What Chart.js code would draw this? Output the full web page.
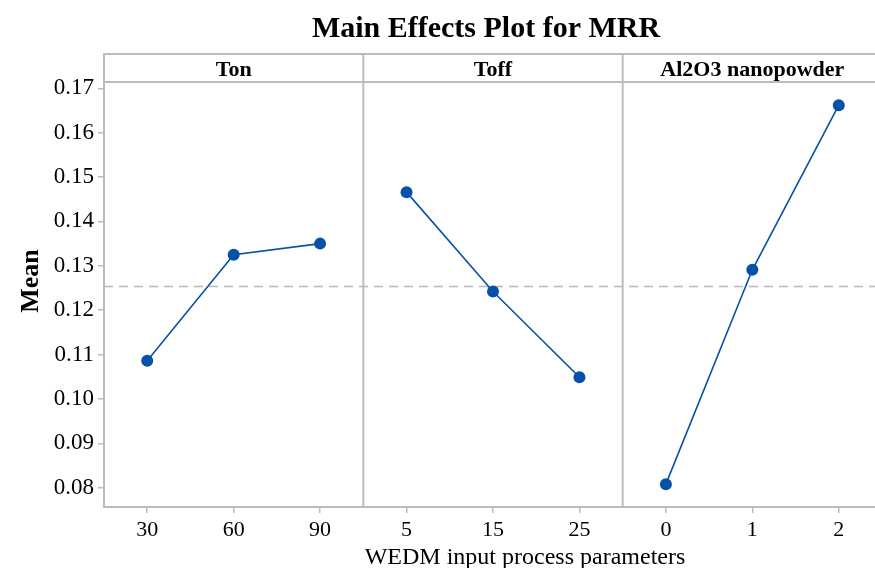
<!DOCTYPE html>
<html>
<head>
<meta charset="utf-8">
<title>Main Effects Plot for MRR</title>
<script src="https://cdn.jsdelivr.net/npm/chart.js@4/dist/chart.umd.min.js"></script>
<style>
    html, body { margin: 0; padding: 0; background: #fff; overflow: hidden; }
    #wrap { position: absolute; left: 0; top: 0; width: 888px; height: 568px; }
</style>
</head>
<body>
<div id="wrap"><canvas id="mainEffects"></canvas></div>
<script>
// Factors (panel headers) and their levels
const factors = ['Ton', 'Toff', 'Al2O3 nanopowder'];
const tonLevels = ['30', '60', '90'];
const toffLevels = ['5', '15', '25'];
const powderLevels = ['0', '1', '2'];

// Mean MRR at each level
const tonMeans = [0.1086, 0.1325, 0.1350];
const toffMeans = [0.1466, 0.1242, 0.1049];
const powderMeans = [0.0808, 0.1291, 0.1662];

// Y axis tick labels
const yTicks = [0.08, 0.09, 0.10, 0.11, 0.12, 0.13, 0.14, 0.15, 0.16, 0.17];

const FRAME = '#bcbcbc';
const BLUE = '#0652a8';
const FONT = "'Liberation Serif', 'Times New Roman', serif";

const levels = [tonLevels, toffLevels, powderLevels];
const means = [tonMeans, toffMeans, powderMeans];
const xLabels = levels.flat();

// each factor gets its own panel of 3 slots on one shared x scale
const datasets = means.map((vals, p) => ({
    data: vals.map((v, i) => ({ x: p * 3 + i, y: v })),
    borderColor: BLUE,
    backgroundColor: BLUE,
    borderWidth: 1.6,
    pointRadius: 6,
    pointBorderWidth: 0,
    order: 1
}));

// grand mean reference line
const allVals = means.flat();
const grandMean = allVals.reduce((a, b) => a + b, 0) / allVals.length;
datasets.push({
    data: [{ x: -0.5, y: grandMean }, { x: 8.5, y: grandMean }],
    borderColor: '#b8b8b8',
    borderWidth: 1.5,
    borderDash: [9, 6],
    pointRadius: 0,
    order: 2
});

// Frame, panel dividers, header strip and titles
const panelFrame = {
    id: 'panelFrame',
    afterDraw(chart) {
        const ctx = chart.ctx;
        const area = chart.chartArea;
        const xs = chart.scales.x;
        const stripTop = area.top - 28;
        ctx.save();
        ctx.strokeStyle = FRAME;
        ctx.lineWidth = 2;
        ctx.strokeRect(area.left, stripTop, area.right - area.left, area.bottom - stripTop);
        ctx.beginPath();
        ctx.moveTo(area.left, area.top);
        ctx.lineTo(area.right, area.top);
        [2.5, 5.5].forEach(v => {
            const px = xs.getPixelForValue(v);
            ctx.moveTo(px, stripTop);
            ctx.lineTo(px, area.bottom);
        });
        ctx.stroke();

        ctx.fillStyle = '#000';
        ctx.textAlign = 'center';
        ctx.textBaseline = 'alphabetic';
        ctx.font = 'bold 22px ' + FONT;
        factors.forEach((name, p) => {
            const cx = xs.getPixelForValue(p * 3 + 1);
            ctx.fillText(name, cx, stripTop + 22);
        });

        // main title
        ctx.font = 'bold 30px ' + FONT;
        ctx.fillText('Main Effects Plot for MRR', 486, 37);

        // x axis title
        ctx.font = '24px ' + FONT;
        ctx.fillText('WEDM input process parameters', 525, 564);

        // y axis title
        ctx.translate(38, 281);
        ctx.rotate(-Math.PI / 2);
        ctx.font = 'bold 26px ' + FONT;
        ctx.fillText('Mean', 0, 0);
        ctx.restore();
    }
};

new Chart(document.getElementById('mainEffects'), {
    type: 'line',
    data: { datasets: datasets },
    options: {
        responsive: true,
        maintainAspectRatio: false,
        animation: false,
        layout: { padding: { left: 0, right: 2, top: 82, bottom: 0 } },
        plugins: {
            legend: { display: false },
            tooltip: { enabled: false }
        },
        scales: {
            x: {
                type: 'linear',
                min: -0.5,
                max: 8.5,
                afterBuildTicks: axis => {
                    axis.ticks = xLabels.map((_, i) => ({ value: i }));
                },
                afterFit: axis => { axis.height = 61; },
                ticks: {
                    autoSkip: false,
                    color: '#000',
                    padding: 4,
                    font: { family: FONT, size: 22 },
                    callback: (v) => xLabels[v]
                },
                grid: { drawOnChartArea: false, drawTicks: true, tickLength: 6, color: FRAME, lineWidth: 1.5 },
                border: { display: false }
            },
            y: {
                min: 0.07565,
                max: 0.17142,
                afterBuildTicks: axis => {
                    axis.ticks = yTicks.map(v => ({ value: v }));
                },
                afterFit: axis => { axis.width = 104; },
                ticks: {
                    color: '#000',
                    padding: 4,
                    font: { family: FONT, size: 23 },
                    callback: (v) => v.toFixed(2)
                },
                grid: { drawOnChartArea: false, drawTicks: true, tickLength: 6, color: FRAME, lineWidth: 1.5 },
                border: { display: false }
            }
        }
    },
    plugins: [panelFrame]
});
</script>
</body>
</html>
